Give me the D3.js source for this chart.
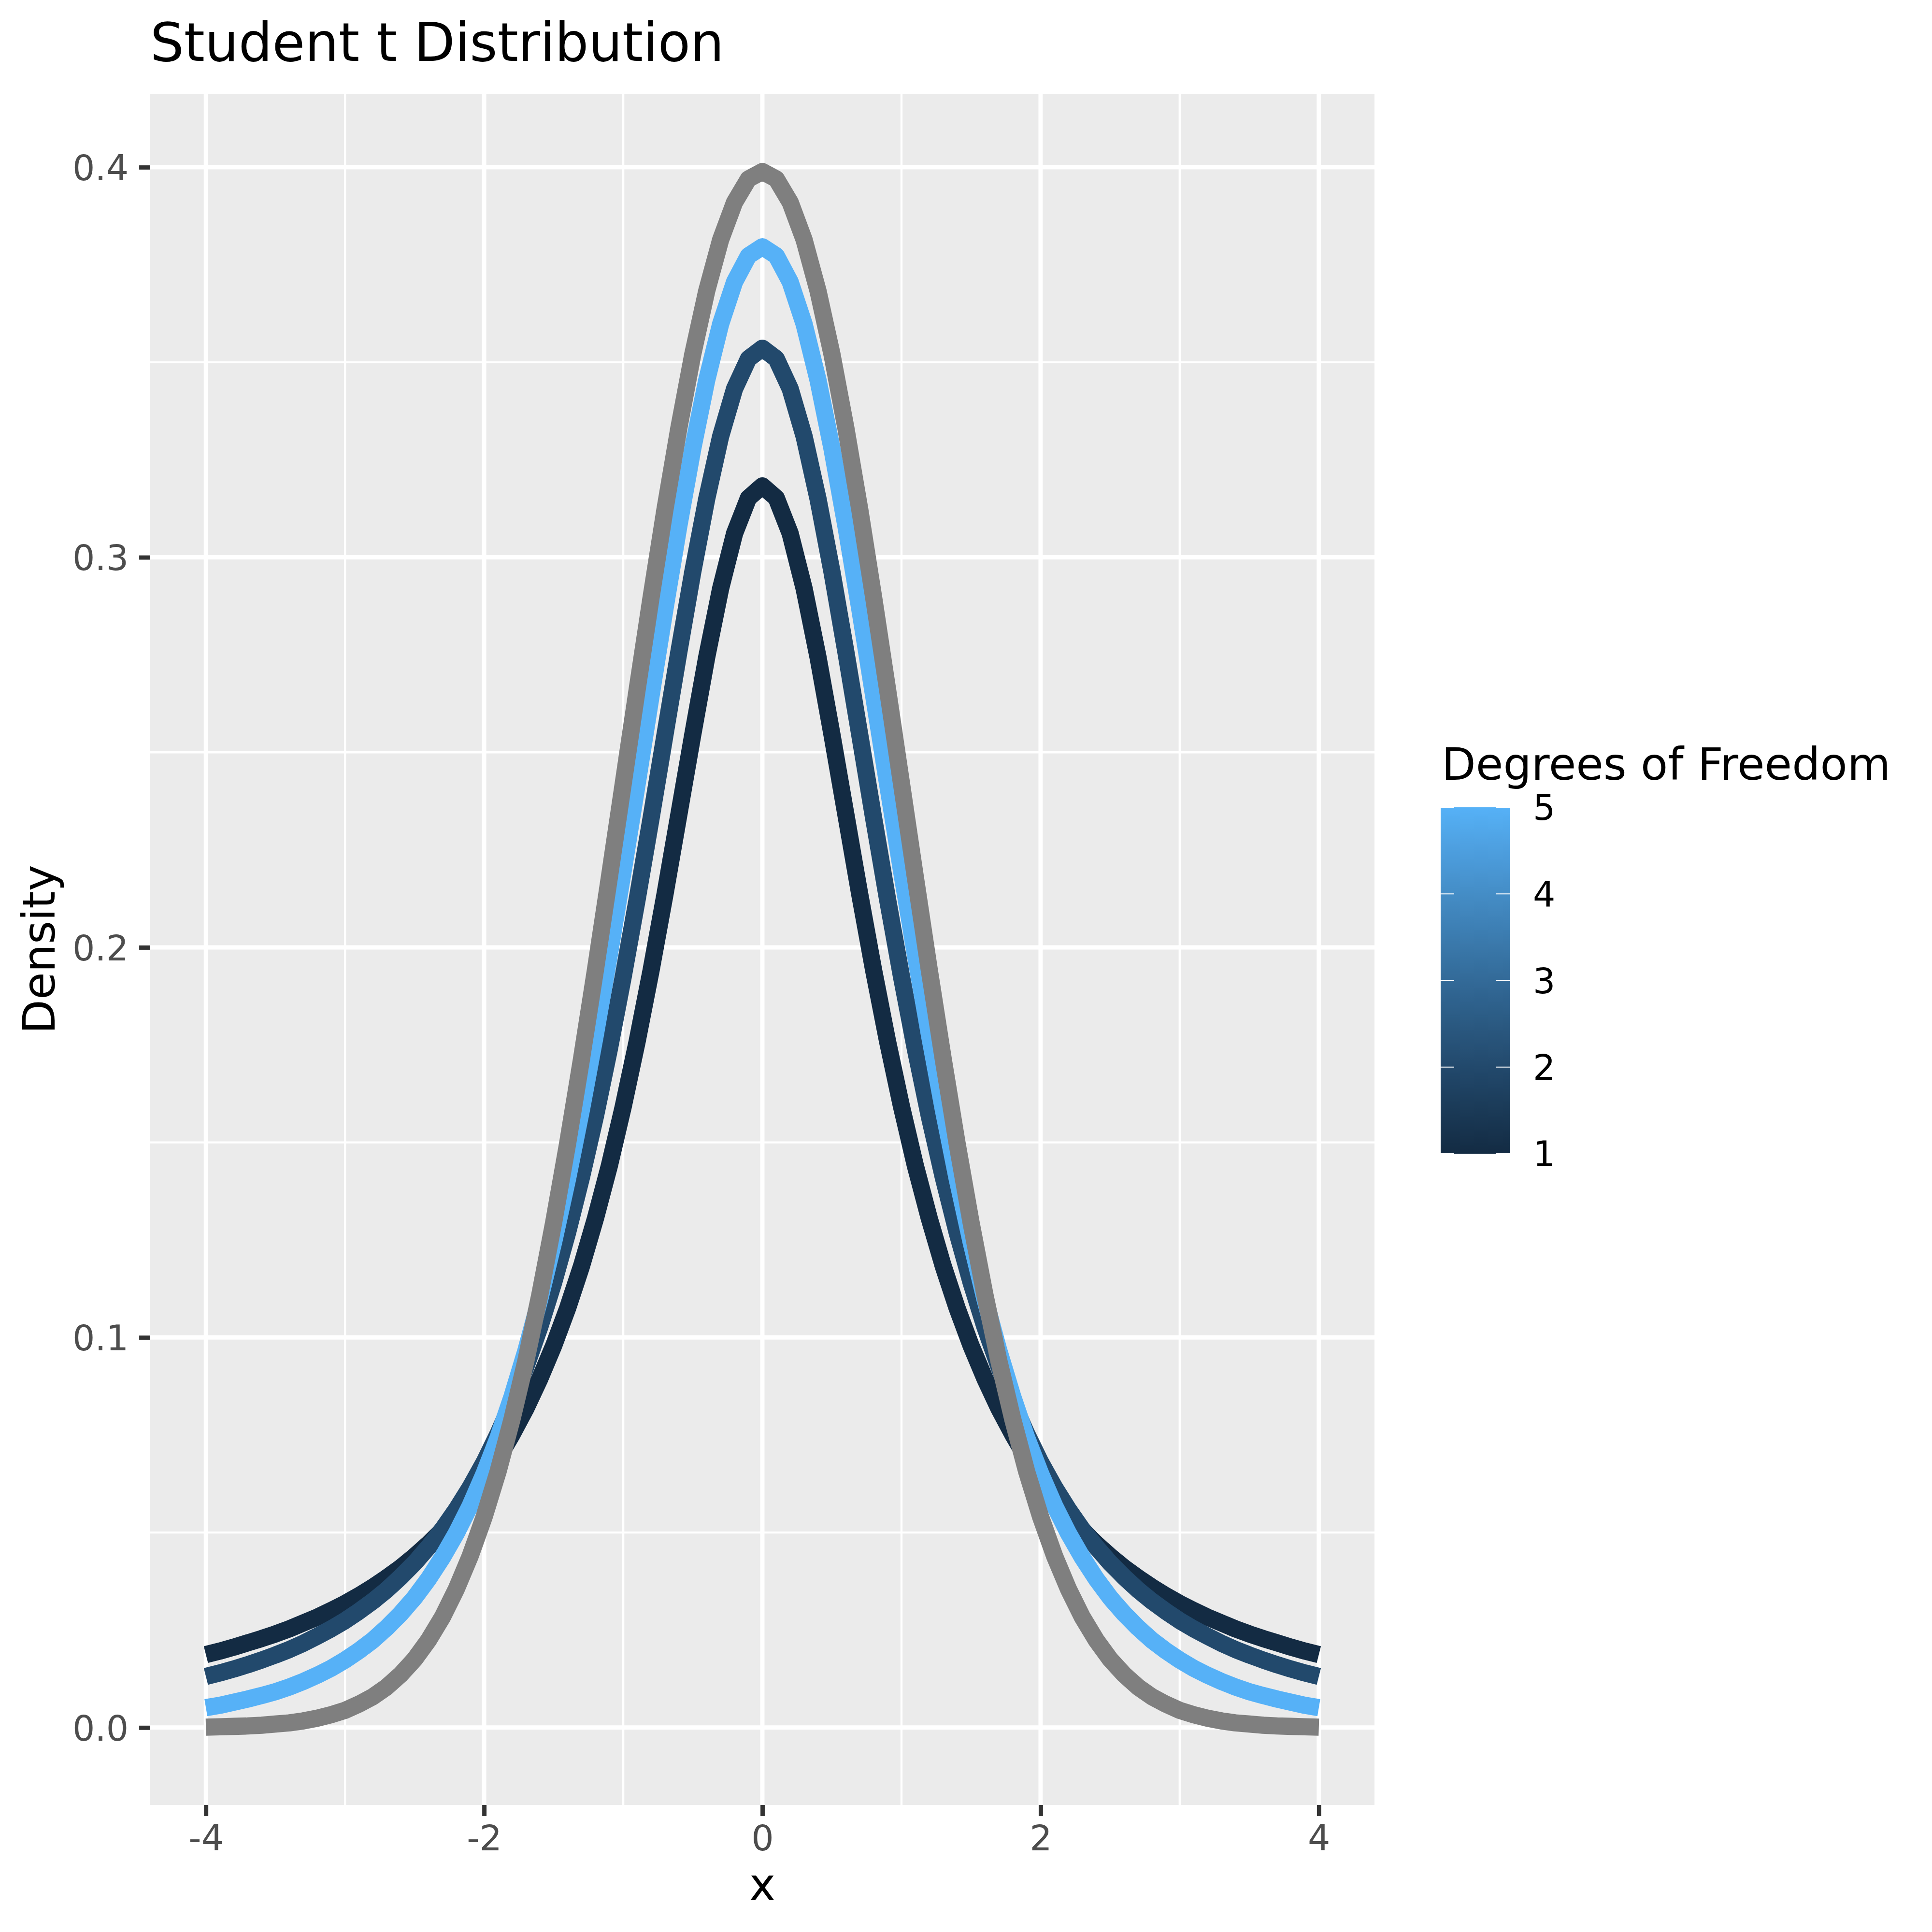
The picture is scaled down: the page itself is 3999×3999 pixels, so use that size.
<!DOCTYPE html>
<meta charset="utf-8">
<style>
body { margin: 0; background: #fff; }
text { font-family: "DejaVu Sans", sans-serif; }
</style>
<body>
<div id="chart"></div>
<script src="https://cdn.jsdelivr.net/npm/d3@7"></script>
<script>

var width = 3999,
    height = 3999;

// x grid the curves were sampled on
var xs = [-4,-3.9,-3.8,-3.7,-3.6,-3.5,-3.4,-3.3,-3.2,-3.1,-3,-2.9,-2.8,-2.7,-2.6,-2.5,-2.4,-2.3,-2.2,-2.1,
    -2,-1.9,-1.8,-1.7,-1.6,-1.5,-1.4,-1.3,-1.2,-1.1,-1,-0.9,-0.8,-0.7,-0.6,-0.5,-0.4,-0.3,-0.2,-0.1,
    0,0.1,0.2,0.3,0.4,0.5,0.6,0.7,0.8,0.9,1,1.1,1.2,1.3,1.4,1.5,1.6,1.7,1.8,1.9,
    2,2.1,2.2,2.3,2.4,2.5,2.6,2.7,2.8,2.9,3,3.1,3.2,3.3,3.4,3.5,3.6,3.7,3.8,3.9,4];

// density values
var t1 = [0.0187,0.0196,0.0206,0.0217,0.0228,0.0240,0.0253,0.0268,0.0283,0.0300,0.0318,0.0338,0.0360,0.0384,0.0410,0.0439,0.0471,0.0506,0.0545,0.0588,
    0.0637,0.0690,0.0751,0.0818,0.0894,0.0979,0.1075,0.1183,0.1305,0.1440,0.1592,0.1759,0.1941,0.2136,0.2341,0.2546,0.2744,0.2920,0.3061,0.3152,
    0.3183,0.3152,0.3061,0.2920,0.2744,0.2546,0.2341,0.2136,0.1941,0.1759,0.1592,0.1440,0.1305,0.1183,0.1075,0.0979,0.0894,0.0818,0.0751,0.0690,
    0.0637,0.0588,0.0545,0.0506,0.0471,0.0439,0.0410,0.0384,0.0360,0.0338,0.0318,0.0300,0.0283,0.0268,0.0253,0.0240,0.0228,0.0217,0.0206,0.0196,0.0187];

var t2 = [0.0131,0.0140,0.0150,0.0161,0.0173,0.0186,0.0200,0.0216,0.0234,0.0253,0.0274,0.0298,0.0324,0.0353,0.0386,0.0422,0.0463,0.0508,0.0559,0.0616,
    0.0680,0.0753,0.0834,0.0925,0.1027,0.1141,0.1269,0.1411,0.1567,0.1739,0.1925,0.2123,0.2331,0.2545,0.2758,0.2963,0.3150,0.3310,0.3432,0.3509,
    0.3536,0.3509,0.3432,0.3310,0.3150,0.2963,0.2758,0.2545,0.2331,0.2123,0.1925,0.1739,0.1567,0.1411,0.1269,0.1141,0.1027,0.0925,0.0834,0.0753,
    0.0680,0.0616,0.0559,0.0508,0.0463,0.0422,0.0386,0.0353,0.0324,0.0298,0.0274,0.0253,0.0234,0.0216,0.0200,0.0186,0.0173,0.0161,0.0150,0.0140,0.0131];

var t5 = [0.0051,0.0057,0.0065,0.0073,0.0082,0.0092,0.0104,0.0118,0.0134,0.0152,0.0173,0.0197,0.0224,0.0256,0.0292,0.0333,0.0381,0.0436,0.0498,0.0569,
    0.0651,0.0743,0.0848,0.0966,0.1098,0.1245,0.1407,0.1585,0.1777,0.1981,0.2197,0.2419,0.2645,0.2868,0.3081,0.3279,0.3454,0.3598,0.3706,0.3773,
    0.3796,0.3773,0.3706,0.3598,0.3454,0.3279,0.3081,0.2868,0.2645,0.2419,0.2197,0.1981,0.1777,0.1585,0.1407,0.1245,0.1098,0.0966,0.0848,0.0743,
    0.0651,0.0569,0.0498,0.0436,0.0381,0.0333,0.0292,0.0256,0.0224,0.0197,0.0173,0.0152,0.0134,0.0118,0.0104,0.0092,0.0082,0.0073,0.0065,0.0057,0.0051];

var normal = [0.0001,0.0002,0.0003,0.0004,0.0006,0.0009,0.0012,0.0017,0.0024,0.0033,0.0044,0.0060,0.0079,0.0104,0.0136,0.0175,0.0224,0.0283,0.0355,0.0440,
    0.0540,0.0656,0.0790,0.0940,0.1109,0.1295,0.1497,0.1714,0.1942,0.2179,0.2420,0.2661,0.2897,0.3123,0.3332,0.3521,0.3683,0.3814,0.3910,0.3970,
    0.3989,0.3970,0.3910,0.3814,0.3683,0.3521,0.3332,0.3123,0.2897,0.2661,0.2420,0.2179,0.1942,0.1714,0.1497,0.1295,0.1109,0.0940,0.0790,0.0656,
    0.0540,0.0440,0.0355,0.0283,0.0224,0.0175,0.0136,0.0104,0.0079,0.0060,0.0044,0.0033,0.0024,0.0017,0.0012,0.0009,0.0006,0.0004,0.0003,0.0002,0.0001];

var dfs = [1, 2, 5];
var tCurves = [t1, t2, t5];

var xTicks = [-4, -2, 0, 2, 4],
    xMinor = [-3, -1, 1, 3],
    yTicks = [0, 0.1, 0.2, 0.3, 0.4],
    yMinor = [0.05, 0.15, 0.25, 0.35],
    legendTicks = [1, 2, 3, 4, 5];

var panel = {left: 311, right: 2845, top: 194, bottom: 3736};

var svg = d3.select("#chart").append("svg")
    .attr("width", width)
    .attr("height", height);

var x = d3.scaleLinear()
    .domain([-4.4, 4.4])
    .range([panel.left, panel.right]);

var allY = t1.concat(t2, t5, normal);
var yMin = d3.min(allY), yMax = d3.max(allY), pad = (yMax - yMin) * 0.05;
var y = d3.scaleLinear()
    .domain([yMin - pad, yMax + pad])
    .range([panel.bottom, panel.top]);

var colour = d3.scaleLinear()
    .domain([1, 5])
    .range(["#132B43", "#56B1F7"])
    .interpolate(d3.interpolateLab);

// panel background + grid
svg.append("rect")
    .attr("x", panel.left).attr("y", panel.top)
    .attr("width", panel.right - panel.left)
    .attr("height", panel.bottom - panel.top)
    .attr("fill", "#EBEBEB");

var grid = svg.append("g").attr("stroke", "#fff").attr("fill", "none");

grid.selectAll(".xminor").data(xMinor).enter().append("line")
    .attr("x1", x).attr("x2", x)
    .attr("y1", panel.top).attr("y2", panel.bottom)
    .attr("stroke-width", 4.4);
grid.selectAll(".yminor").data(yMinor).enter().append("line")
    .attr("y1", y).attr("y2", y)
    .attr("x1", panel.left).attr("x2", panel.right)
    .attr("stroke-width", 4.4);
grid.selectAll(".xmajor").data(xTicks).enter().append("line")
    .attr("x1", x).attr("x2", x)
    .attr("y1", panel.top).attr("y2", panel.bottom)
    .attr("stroke-width", 8.9);
grid.selectAll(".ymajor").data(yTicks).enter().append("line")
    .attr("y1", y).attr("y2", y)
    .attr("x1", panel.left).attr("x2", panel.right)
    .attr("stroke-width", 8.9);

// curves
var line = d3.line()
    .x(function(d) { return x(d[0]); })
    .y(function(d) { return y(d[1]); });

var lines = svg.append("g")
    .attr("fill", "none")
    .attr("stroke-width", 35.6)
    .attr("stroke-linejoin", "round")
    .attr("stroke-linecap", "butt");

tCurves.forEach(function(vals, i) {
    lines.append("path")
        .attr("d", line(d3.zip(xs, vals)))
        .attr("stroke", colour(dfs[i]));
});

lines.append("path")
    .attr("d", line(d3.zip(xs, normal)))
    .attr("stroke", "#7F7F7F");

// axes
var xAxis = d3.axisBottom(x).tickValues(xTicks).tickSize(22.9).tickPadding(8)
    .tickFormat(function(d) { return String(d); });
var yAxis = d3.axisLeft(y).tickValues(yTicks).tickSize(22.9).tickPadding(22)
    .tickFormat(d3.format(".1f"));

var gx = svg.append("g")
    .attr("transform", "translate(0," + panel.bottom + ")")
    .call(xAxis);
var gy = svg.append("g")
    .attr("transform", "translate(" + panel.left + ",0)")
    .call(yAxis);

[gx, gy].forEach(function(g) {
    g.select(".domain").remove();
    g.selectAll(".tick line").attr("stroke", "#333333").attr("stroke-width", 8.9);
    g.selectAll(".tick text")
        .attr("fill", "#4D4D4D")
        .style("font-family", "DejaVu Sans")
        .style("font-size", "73px");
});
gx.selectAll(".tick text").attr("dy", null).attr("y", 94);
gy.selectAll(".tick text").attr("dy", "0.36em");

// titles
svg.append("text")
    .attr("x", 311).attr("y", 126)
    .style("font-size", "110px")
    .text("Student t Distribution");

svg.append("text")
    .attr("x", (panel.left + panel.right) / 2).attr("y", 3933)
    .attr("text-anchor", "middle")
    .style("font-size", "92px")
    .text("x");

svg.append("text")
    .attr("transform", "translate(113," + (panel.top + panel.bottom) / 2 + ") rotate(-90)")
    .attr("text-anchor", "middle")
    .style("font-size", "92px")
    .text("Density");

// colourbar legend
var bar = {x: 2982, w: 143, top: 1671, bottom: 2388};
var ly = d3.scaleLinear().domain([1, 5]).range([bar.bottom, bar.top]);

var grad = svg.append("defs").append("linearGradient")
    .attr("id", "dfgrad")
    .attr("x1", 0).attr("y1", 1).attr("x2", 0).attr("y2", 0);
d3.range(0, 21).forEach(function(i) {
    var v = 1 + i * 0.2;
    grad.append("stop")
        .attr("offset", (i / 20 * 100) + "%")
        .attr("stop-color", colour(v));
});

svg.append("text")
    .attr("x", 2984).attr("y", 1614)
    .style("font-size", "92px")
    .text("Degrees of Freedom");

svg.append("rect")
    .attr("x", bar.x).attr("y", bar.top)
    .attr("width", bar.w).attr("height", bar.bottom - bar.top)
    .attr("fill", "url(#dfgrad)");

var lt = svg.append("g").attr("stroke", "#fff").attr("stroke-width", 2);
legendTicks.forEach(function(v) {
    lt.append("line")
        .attr("x1", bar.x).attr("x2", bar.x + 28)
        .attr("y1", ly(v)).attr("y2", ly(v));
    lt.append("line")
        .attr("x1", bar.x + bar.w - 28).attr("x2", bar.x + bar.w)
        .attr("y1", ly(v)).attr("y2", ly(v));
});

svg.append("g").selectAll("text").data(legendTicks).enter().append("text")
    .attr("x", 3173)
    .attr("y", ly)
    .attr("dy", "0.36em")
    .style("font-size", "73px")
    .text(function(d) { return d; });

</script>
